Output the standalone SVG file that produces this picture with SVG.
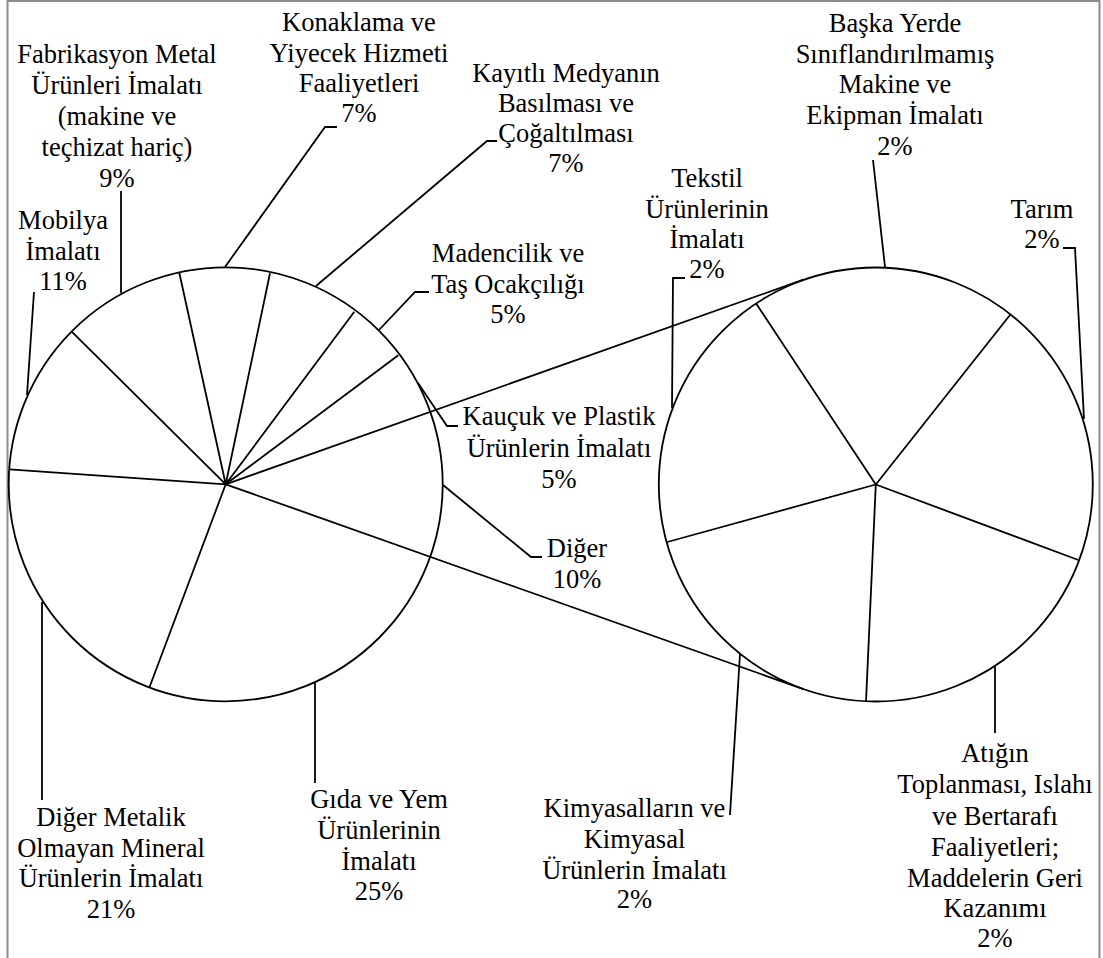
<svg xmlns="http://www.w3.org/2000/svg" width="1103" height="958" viewBox="0 0 1103 958" font-family="Liberation Serif, serif">
<style>
  .pie { fill: #fff; stroke: #000; stroke-width: 1.8; }
  .ln { fill: none; stroke: #000; stroke-width: 1.8; stroke-linejoin: miter; }
  .lb { font-size: 26.5px; fill: #000; text-anchor: middle; }
</style>
<rect x="0" y="0" width="1103" height="958" fill="#fff"/>
<rect x="7.5" y="1" width="1092" height="990" fill="none" stroke="#8c8c8c" stroke-width="2"/>

<g id="pie-main">
  <circle class="pie" cx="225.7" cy="484.3" r="217"/>
  <path class="ln" d="M225.7 484.3 L179.3 272.7 M225.7 484.3 L270 273.3 M225.7 484.3 L354.3 311.7 M225.7 484.3 L398.3 355.3 M225.7 484.3 L149.3 687.7 M225.7 484.3 L9.3 469.3 M225.7 484.3 L71.7 331.7"/>
</g>
<g id="pie-second">
  <circle class="pie" cx="875.8" cy="484.5" r="217"/>
  <path class="ln" d="M875.8 484.5 L756 303.3 M875.8 484.5 L1010 315 M875.8 484.5 L1078.3 560 M875.8 484.5 L866 701.7 M875.8 484.5 L667.3 542"/>
</g>
<g id="connectors">
  <path class="ln" d="M225.7 484.3 L803.4 279.7"/>
  <path class="ln" d="M225.7 484.3 L803.4 689.1"/>
</g>

<g id="leaders">
  <path class="ln" d="M121 191 L121 293"/>
  <path class="ln" d="M34 292 L27 395"/>
  <path class="ln" d="M337 127 L325 127 L225 267"/>
  <path class="ln" d="M497 141 L487 141 L316 286"/>
  <path class="ln" d="M429 292 L415 292 L379 330"/>
  <path class="ln" d="M458 426 L447 426 L418 383"/>
  <path class="ln" d="M542 557 L531 557 L443 485"/>
  <path class="ln" d="M42 602 L42 800"/>
  <path class="ln" d="M315 683 L315 783"/>
  <path class="ln" d="M685 278 L673 278 L672 408"/>
  <path class="ln" d="M873 160 L885 267"/>
  <path class="ln" d="M1063 248 L1075 248 L1084 419"/>
  <path class="ln" d="M995 666 L995 733"/>
  <path class="ln" d="M740 654 L730 815"/>
</g>

<g id="label-fabrikasyon" class="lb">
  <text x="117" y="63">Fabrikasyon Metal</text>
  <text x="117" y="94">Ürünleri İmalatı</text>
  <text x="117" y="125">(makine ve</text>
  <text x="117" y="156">teçhizat hariç)</text>
  <text x="117" y="187">9%</text>
</g>
<g id="label-mobilya" class="lb">
  <text x="63" y="229">Mobilya</text>
  <text x="63" y="260">İmalatı</text>
  <text x="63" y="290">11%</text>
</g>
<g id="label-konaklama" class="lb">
  <text x="359" y="31">Konaklama ve</text>
  <text x="359" y="62">Yiyecek Hizmeti</text>
  <text x="359" y="92">Faaliyetleri</text>
  <text x="359" y="122">7%</text>
</g>
<g id="label-kayitli" class="lb">
  <text x="566" y="82">Kayıtlı Medyanın</text>
  <text x="566" y="112">Basılması ve</text>
  <text x="566" y="142">Çoğaltılması</text>
  <text x="566" y="172">7%</text>
</g>
<g id="label-madencilik" class="lb">
  <text x="508" y="262">Madencilik ve</text>
  <text x="508" y="293">Taş Ocakçılığı</text>
  <text x="508" y="323">5%</text>
</g>
<g id="label-kaucuk" class="lb">
  <text x="559" y="425">Kauçuk ve Plastik</text>
  <text x="559" y="457">Ürünlerin İmalatı</text>
  <text x="559" y="488">5%</text>
</g>
<g id="label-diger" class="lb">
  <text x="577" y="557">Diğer</text>
  <text x="577" y="588">10%</text>
</g>
<g id="label-diger-metalik" class="lb">
  <text x="111" y="826">Diğer Metalik</text>
  <text x="111" y="857">Olmayan Mineral</text>
  <text x="111" y="887">Ürünlerin İmalatı</text>
  <text x="111" y="918">21%</text>
</g>
<g id="label-gida" class="lb">
  <text x="379" y="808">Gıda ve Yem</text>
  <text x="379" y="839">Ürünlerinin</text>
  <text x="379" y="870">İmalatı</text>
  <text x="379" y="900">25%</text>
</g>
<g id="label-tekstil" class="lb">
  <text x="707" y="187">Tekstil</text>
  <text x="707" y="218">Ürünlerinin</text>
  <text x="707" y="248">İmalatı</text>
  <text x="707" y="278">2%</text>
</g>
<g id="label-baska" class="lb">
  <text x="895" y="32">Başka Yerde</text>
  <text x="895" y="63">Sınıflandırılmamış</text>
  <text x="895" y="93">Makine ve</text>
  <text x="895" y="124">Ekipman İmalatı</text>
  <text x="895" y="155">2%</text>
</g>
<g id="label-tarim" class="lb">
  <text x="1042" y="218">Tarım</text>
  <text x="1042" y="248">2%</text>
</g>
<g id="label-atigin" class="lb">
  <text x="995" y="762">Atığın</text>
  <text x="995" y="793">Toplanması, Islahı</text>
  <text x="995" y="825">ve Bertarafı</text>
  <text x="995" y="856">Faaliyetleri;</text>
  <text x="995" y="887">Maddelerin Geri</text>
  <text x="995" y="917">Kazanımı</text>
  <text x="995" y="947">2%</text>
</g>
<g id="label-kimyasal" class="lb">
  <text x="634.5" y="817">Kimyasalların ve</text>
  <text x="634.5" y="848">Kimyasal</text>
  <text x="634.5" y="879">Ürünlerin İmalatı</text>
  <text x="634.5" y="908">2%</text>
</g>
</svg>
